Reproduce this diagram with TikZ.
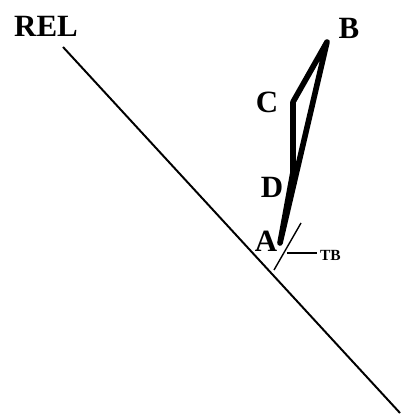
\documentclass[tikz,border=0pt]{standalone}
\usepackage{fontspec}
\setmainfont{Liberation Serif}
\tikzset{
    biglabel/.style={font=\fontsize{22}{22}\selectfont\bfseries, inner sep=0pt},
    smalllabel/.style={font=\fontsize{11}{11}\selectfont\bfseries, inner sep=2pt},
    loopline/.style={line width=4pt, line join=round, line cap=round}
}

\begin{document}
\begin{tikzpicture}[x=0.025cm, y=-0.025cm]
        \useasboundingbox (0,0) rectangle (401,418);
        % REL line
        \coordinate (relstart) at (63,47);
        \coordinate (relend) at (400,413);
        \draw[line width=1.4pt] (relstart) -- (relend);
        \node[biglabel] (rel) at (46,26) {REL};
        % Loop corners
        \coordinate (pa) at (280,243);
        \coordinate (pb) at (327,42);
        \coordinate (pc) at (293,102);
        \coordinate (pd) at (293,172);
        \draw[loopline] (pa) -- (pb) -- (pc) -- (pd) -- cycle;
        % Corner labels
        \node[biglabel] (la) at (266,241) {A};
        \node[biglabel] (lb) at (349,28) {B};
        \node[biglabel] (lc) at (267,102) {C};
        \node[biglabel] (ld) at (272,187) {D};
        % TB mark
        \coordinate (tbtop) at (301,223);
        \coordinate (tbbot) at (274,270);
        \draw[line width=1pt] (tbtop) -- (tbbot);
        \coordinate (tbdash) at (287,253);
        \node[smalllabel, anchor=west] (tb) at (317,255) {TB};
        \draw[line width=1pt] (tbdash) -- (tbdash -| tb.west);
    \end{tikzpicture}
\end{document}
